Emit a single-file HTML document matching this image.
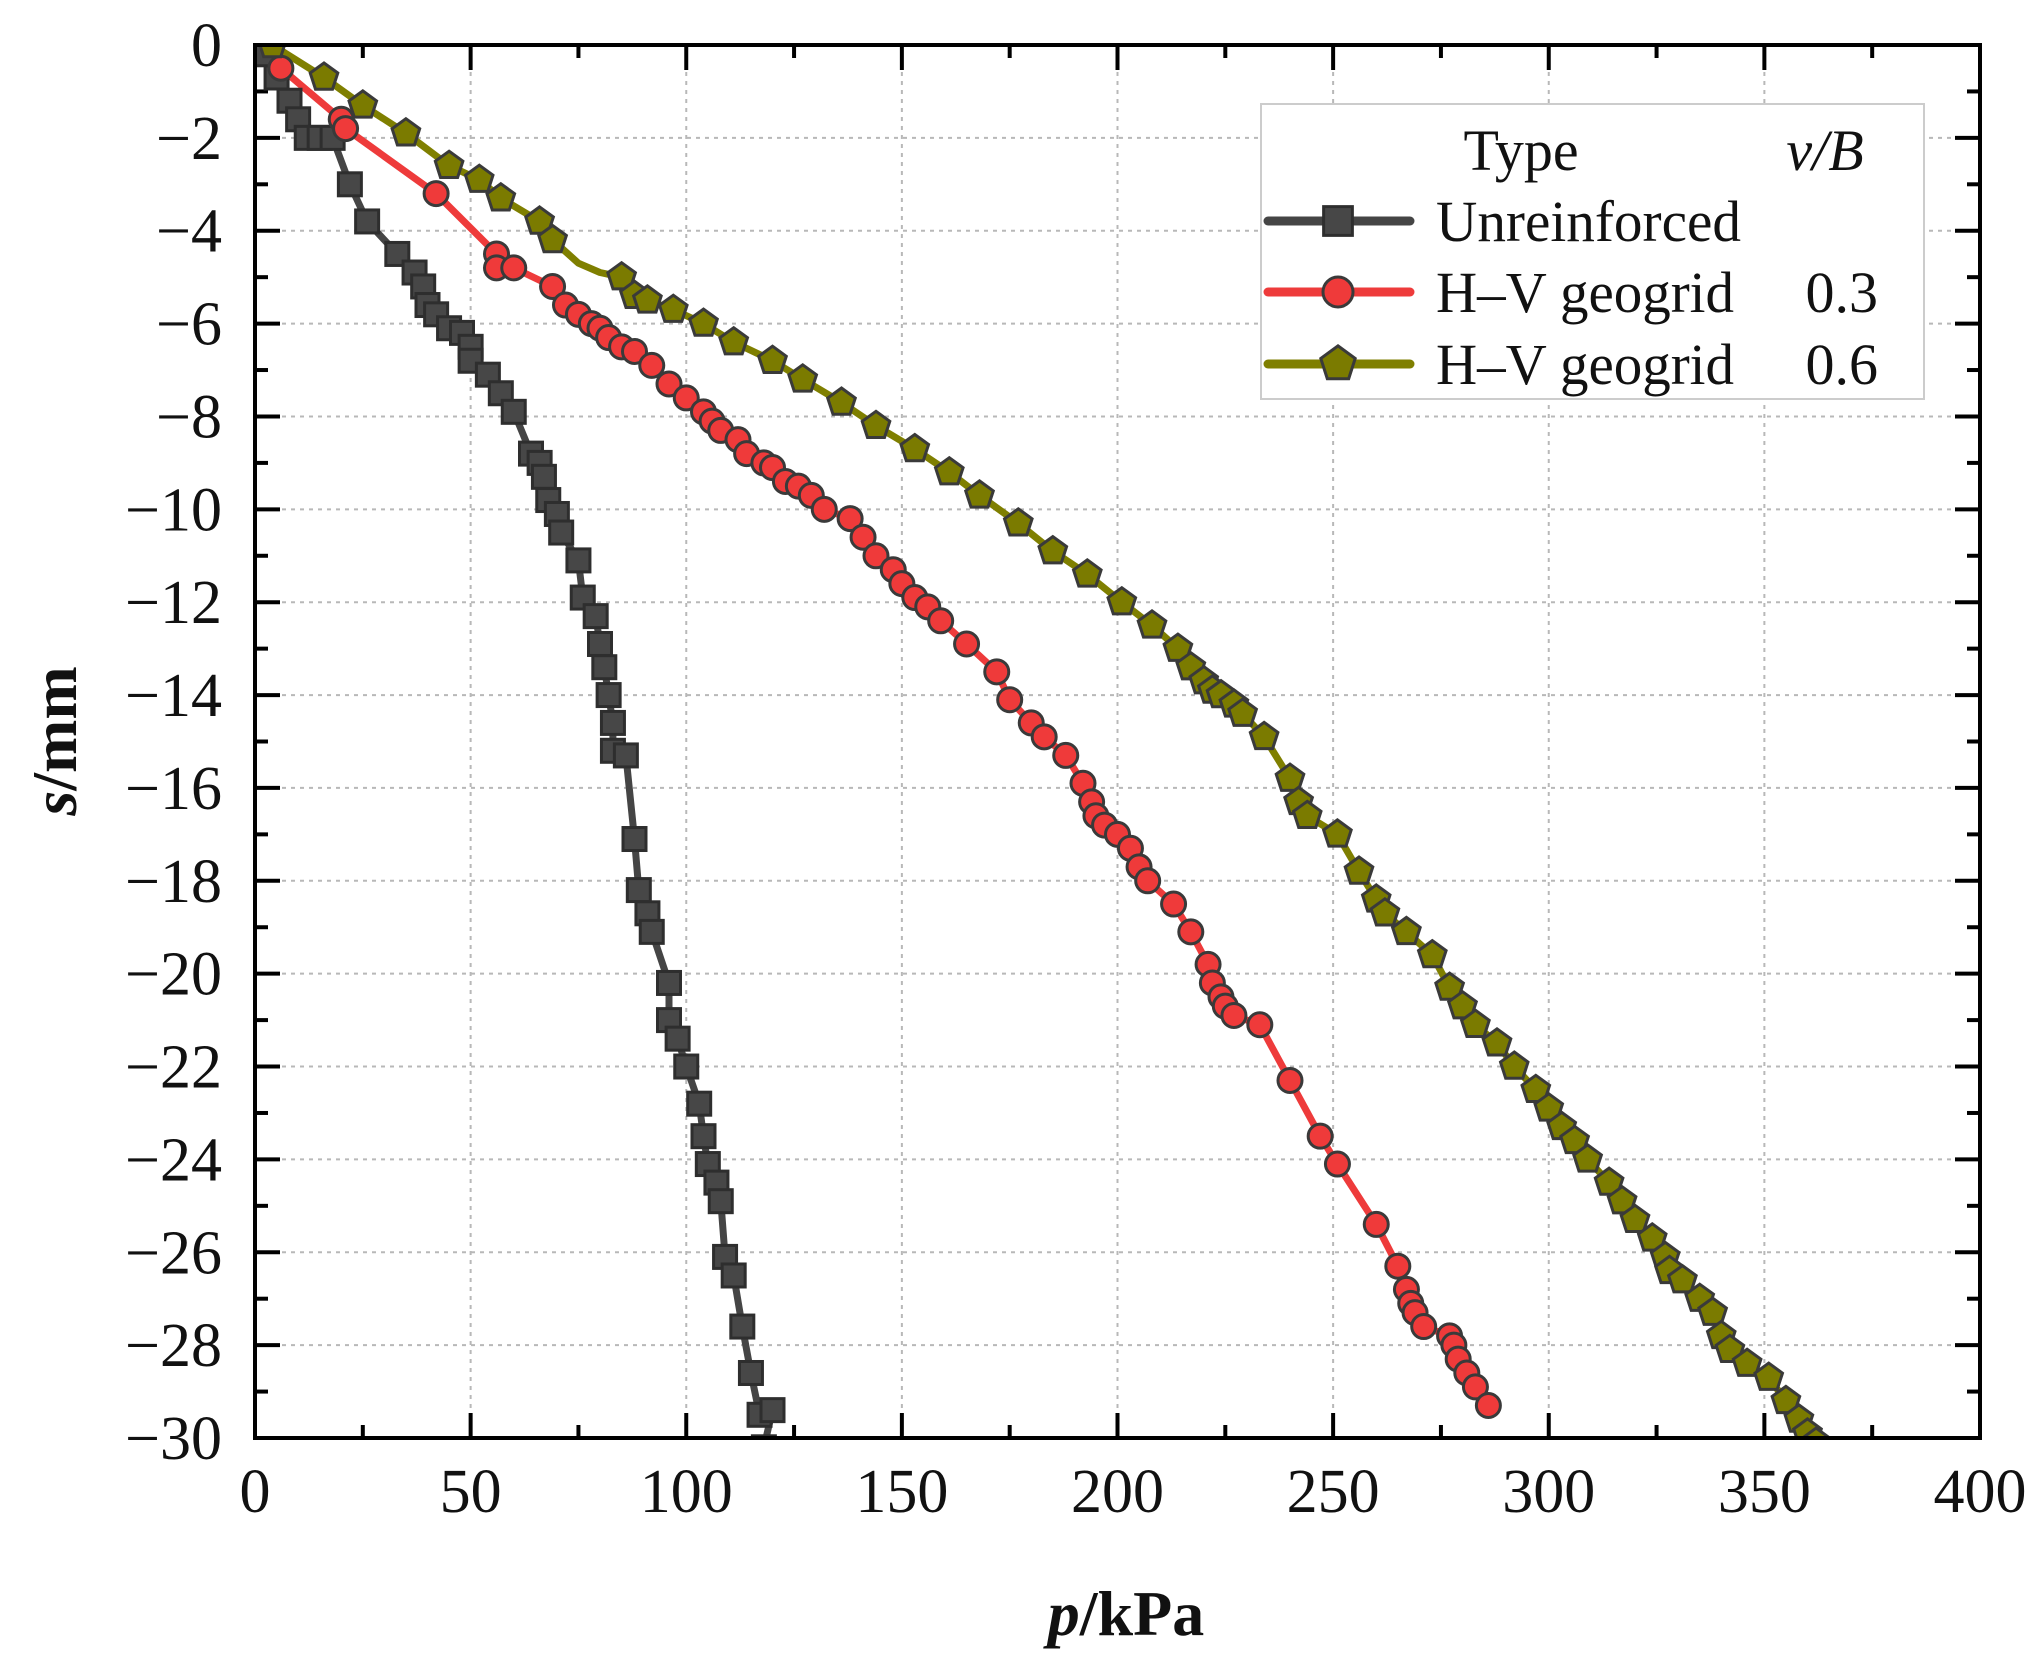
<!DOCTYPE html>
<html><head><meta charset="utf-8"><style>
html,body{margin:0;padding:0;background:#fff;}
svg{display:block;}
text{font-family:"Liberation Serif",serif;fill:#111;}
</style></head><body>
<svg id="s" width="2037" height="1664" xmlns="http://www.w3.org/2000/svg">
<defs><clipPath id="c"><rect x="255" y="45" width="1725" height="1393"/></clipPath></defs>
<g id="grid" stroke="#b8b8b8" stroke-width="2" stroke-dasharray="4,5"></g>
<g id="ax"></g>
<g id="series" clip-path="url(#c)"></g>
<rect x="255" y="45" width="1725" height="1393" fill="none" stroke="#000" stroke-width="4"/>
<g id="lab" font-size="62"></g>
<text x="1126" y="1635" font-size="64" text-anchor="middle" font-weight="bold"><tspan font-style="italic">p</tspan>/kPa</text>
<text transform="translate(76,741) rotate(-90)" font-size="64" text-anchor="middle" font-weight="bold"><tspan font-style="italic">s</tspan>/mm</text>
<g id="leg">
<rect x="1261" y="104" width="663" height="295" fill="#fff" stroke="#ccc" stroke-width="2"/>
<text x="1521" y="170" font-size="58" text-anchor="middle">Type</text>
<text x="1825" y="170" font-size="58" text-anchor="middle" font-style="italic">v/B</text>
<text x="1436" y="241" font-size="58" textLength="305" lengthAdjust="spacingAndGlyphs">Unreinforced</text>
<text x="1436" y="312" font-size="58" textLength="298" lengthAdjust="spacingAndGlyphs">H–V geogrid</text>
<text x="1436" y="384" font-size="58" textLength="298" lengthAdjust="spacingAndGlyphs">H–V geogrid</text>
<text x="1878" y="312" font-size="58" text-anchor="end">0.3</text>
<text x="1878" y="384" font-size="58" text-anchor="end">0.6</text>
</g>
</svg>
<script>
var NS="http://www.w3.org/2000/svg";
function X(p){return 255+p*4.3125;}
function Y(s){return 45-s*(1393/30);}
function el(tag,a,par){var e=document.createElementNS(NS,tag);for(var k in a)e.setAttribute(k,a[k]);document.getElementById(par).appendChild(e);return e;}
for(var p=0;p<=400;p+=25){var x=X(p);var maj=p%50==0;
 if(maj&&p>0&&p<400)el('line',{x1:x,y1:45,x2:x,y2:1438},'grid');
 var L=maj?25:13;
 el('line',{x1:x,y1:1438,x2:x,y2:1438-L,stroke:'#000','stroke-width':4},'ax');
 el('line',{x1:x,y1:45,x2:x,y2:45+L,stroke:'#000','stroke-width':4},'ax');
 if(maj){var t=el('text',{x:x,y:1512,'text-anchor':'middle'},'lab');t.textContent=p;}
}
for(var s=0;s>=-30;s-=1){var y=Y(s);var maj=s%2==0;
 if(maj&&s<0&&s>-30)el('line',{x1:255,y1:y,x2:1980,y2:y},'grid');
 var L=maj?25:13;
 el('line',{x1:255,y1:y,x2:255+L,y2:y,stroke:'#000','stroke-width':4},'ax');
 el('line',{x1:1980,y1:y,x2:1980-L,y2:y,stroke:'#000','stroke-width':4},'ax');
 if(maj){var t=el('text',{x:222,y:y+21,'text-anchor':'end'},'lab');t.textContent=(s==0?'0':'\u2212'+(-s));}
}
var U=[[1,0],[2,-0.2],[5,-0.7],[8,-1.2],[10,-1.6],[12,-2.0],[15,-2.0],[18,-2.0],[22,-3.0],[26,-3.8],[33,-4.5],[37,-4.9],[39,-5.2],[40,-5.6],[42,-5.8],[45,-6.1],[48,-6.2],[50,-6.5],[50,-6.8],[54,-7.1],[57,-7.5],[60,-7.9],[64,-8.8],[66,-9.0],[67,-9.3],[68,-9.8],[70,-10.1],[71,-10.5],[75,-11.1],[76,-11.9],[79,-12.3],[80,-12.9],[81,-13.4],[82,-14.0],[83,-14.6],[83,-15.2],[86,-15.3],[88,-17.1],[89,-18.2],[91,-18.7],[92,-19.1],[96,-20.2],[96,-21.0],[98,-21.4],[100,-22.0],[103,-22.8],[104,-23.5],[105,-24.1],[107,-24.5],[108,-24.9],[109,-26.1],[111,-26.5],[113,-27.6],[115,-28.6],[117,-29.5],[120,-29.4],[118,-30.2]];
var R=[[1,0],[6,-0.5],[20,-1.6],[21,-1.8],[42,-3.2],[56,-4.5],[56,-4.8],[60,-4.8],[69,-5.2],[72,-5.6],[75,-5.8],[78,-6.0],[80,-6.1],[82,-6.3],[85,-6.5],[88,-6.6],[92,-6.9],[96,-7.3],[100,-7.6],[104,-7.9],[106,-8.1],[108,-8.3],[112,-8.5],[114,-8.8],[118,-9.0],[120,-9.1],[123,-9.4],[126,-9.5],[129,-9.7],[132,-10.0],[138,-10.2],[141,-10.6],[144,-11.0],[148,-11.3],[150,-11.6],[153,-11.9],[156,-12.1],[159,-12.4],[165,-12.9],[172,-13.5],[175,-14.1],[180,-14.6],[183,-14.9],[188,-15.3],[192,-15.9],[194,-16.3],[195,-16.6],[197,-16.8],[200,-17.0],[203,-17.3],[205,-17.7],[207,-18.0],[213,-18.5],[217,-19.1],[221,-19.8],[222,-20.2],[224,-20.5],[225,-20.7],[227,-20.9],[233,-21.1],[240,-22.3],[247,-23.5],[251,-24.1],[260,-25.4],[265,-26.3],[267,-26.8],[268,-27.1],[269,-27.3],[271,-27.6],[277,-27.8],[278,-28.0],[279,-28.3],[281,-28.6],[283,-28.9],[286,-29.3]];
var O=[[4,0],[16,-0.7],[25,-1.3],[35,-1.9],[45,-2.6],[52,-2.9],[57,-3.3],[66,-3.8],[69,-4.2],[75,-4.7],[80,-4.9],[85,-5.0],[88,-5.4],[91,-5.5],[97,-5.7],[104,-6.0],[111,-6.4],[120,-6.8],[127,-7.2],[136,-7.7],[144,-8.2],[153,-8.7],[161,-9.2],[168,-9.7],[177,-10.3],[185,-10.9],[193,-11.4],[201,-12.0],[208,-12.5],[214,-13.0],[217,-13.4],[220,-13.7],[222,-13.9],[224,-14.0],[227,-14.2],[229,-14.4],[234,-14.9],[240,-15.8],[242,-16.3],[244,-16.6],[251,-17.0],[256,-17.8],[260,-18.4],[262,-18.7],[267,-19.1],[273,-19.6],[277,-20.3],[280,-20.7],[283,-21.1],[288,-21.5],[292,-22.0],[297,-22.5],[300,-22.9],[303,-23.3],[306,-23.6],[309,-24.0],[314,-24.5],[317,-24.9],[320,-25.3],[324,-25.7],[327,-26.1],[328,-26.4],[331,-26.6],[335,-27.0],[338,-27.3],[340,-27.8],[342,-28.1],[346,-28.4],[351,-28.7],[355,-29.2],[358,-29.6],[360,-29.9],[362,-30.1]];
function line(D,col){var d=D.map(function(q,i){return (i?'L':'M')+X(q[0]).toFixed(1)+' '+Y(q[1]).toFixed(1);}).join('');
 el('path',{d:d,fill:'none',stroke:col,'stroke-width':7,'stroke-linejoin':'round'},'series');}
function sq(x,y,par,k){k=k||1;var h=11.5*k;el('rect',{x:x-h,y:y-h,width:2*h,height:2*h,fill:'#474747',stroke:'#2e2e2e','stroke-width':3},par);}
function ci(x,y,par,k){k=k||1;el('circle',{cx:x,cy:y,r:12*k,fill:'#ef3a3a',stroke:'#3a3a3a','stroke-width':3},par);}
function pe(x,y,par,k){k=k||1;var r=14.5*k,pts=[];for(var i=0;i<5;i++){var a=-Math.PI/2+i*2*Math.PI/5;pts.push((x+r*Math.cos(a)).toFixed(1)+','+(y+r*Math.sin(a)).toFixed(1));}
 el('polygon',{points:pts.join(' '),fill:'#7b7b00',stroke:'#3a3a3a','stroke-width':3},par);}
line(U,'#454545');line(R,'#ee3b3b');line(O,'#7f7f00');
U.forEach(function(q,i){if(i>0)sq(X(q[0]),Y(q[1]),'series');});
R.forEach(function(q,i){if(i>0)ci(X(q[0]),Y(q[1]),'series');});
O.forEach(function(q,i){if(q[0]!=75&&q[0]!=80)pe(X(q[0]),Y(q[1]),'series');});
[[221,'#454545',sq],[292,'#ee3b3b',ci],[364,'#7f7f00',pe]].forEach(function(a){
 el('line',{x1:1268,y1:a[0],x2:1410,y2:a[0],stroke:a[1],'stroke-width':9,'stroke-linecap':'round'},'leg');
 a[2](1338,a[0],'leg',1.25);});
</script>
</body></html>
